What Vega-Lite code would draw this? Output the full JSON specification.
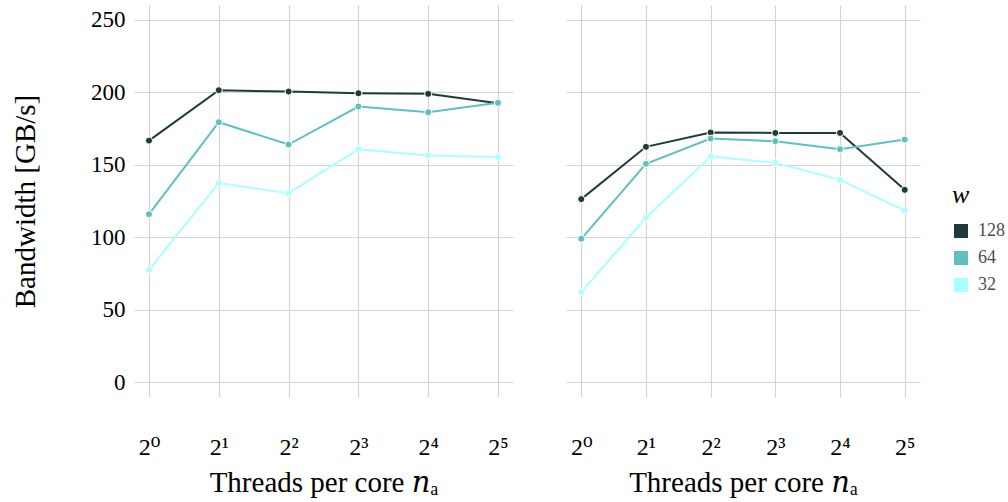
{
  "$schema": "https://vega.github.io/schema/vega-lite/v6.json",
  "autosize": {"type": "pad"},
  "padding": {"left": 11, "top": 5, "right": 5, "bottom": 5},
  "bounds": "flush",
  "spacing": 53,
  "background": "white",
  "config": {
    "font": "Liberation Serif",
    "view": {"stroke": null},
    "axis": {
      "gridColor": "#d4d4d4",
      "gridWidth": 1.2,
      "domain": false,
      "ticks": false,
      "labelColor": "black",
      "titleColor": "black",
      "labelFont": "Liberation Serif, DejaVu Serif, serif",
      "titleFont": "Liberation Serif, DejaVu Serif, serif",
      "titleFontWeight": "normal"
    },
    "legend": {
      "labelFont": "Liberation Serif",
      "titleFont": "Liberation Serif"
    }
  },
  "data": {
    "values": [
      {"panel": "a", "w": "128", "n": "2⁰", "bw": 166.7},
      {"panel": "a", "w": "128", "n": "2¹", "bw": 201.5},
      {"panel": "a", "w": "128", "n": "2²", "bw": 200.6},
      {"panel": "a", "w": "128", "n": "2³", "bw": 199.4},
      {"panel": "a", "w": "128", "n": "2⁴", "bw": 199.0},
      {"panel": "a", "w": "128", "n": "2⁵", "bw": 192.5},
      {"panel": "a", "w": "64", "n": "2⁰", "bw": 115.9},
      {"panel": "a", "w": "64", "n": "2¹", "bw": 179.4},
      {"panel": "a", "w": "64", "n": "2²", "bw": 164.0},
      {"panel": "a", "w": "64", "n": "2³", "bw": 190.2},
      {"panel": "a", "w": "64", "n": "2⁴", "bw": 186.3},
      {"panel": "a", "w": "64", "n": "2⁵", "bw": 192.8},
      {"panel": "a", "w": "32", "n": "2⁰", "bw": 77.5},
      {"panel": "a", "w": "32", "n": "2¹", "bw": 137.3},
      {"panel": "a", "w": "32", "n": "2²", "bw": 130.4},
      {"panel": "a", "w": "32", "n": "2³", "bw": 160.8},
      {"panel": "a", "w": "32", "n": "2⁴", "bw": 156.4},
      {"panel": "a", "w": "32", "n": "2⁵", "bw": 155.3},
      {"panel": "b", "w": "128", "n": "2⁰", "bw": 126.3},
      {"panel": "b", "w": "128", "n": "2¹", "bw": 162.4},
      {"panel": "b", "w": "128", "n": "2²", "bw": 172.3},
      {"panel": "b", "w": "128", "n": "2³", "bw": 172.0},
      {"panel": "b", "w": "128", "n": "2⁴", "bw": 172.0},
      {"panel": "b", "w": "128", "n": "2⁵", "bw": 132.7},
      {"panel": "b", "w": "64", "n": "2⁰", "bw": 98.9},
      {"panel": "b", "w": "64", "n": "2¹", "bw": 150.7},
      {"panel": "b", "w": "64", "n": "2²", "bw": 168.1},
      {"panel": "b", "w": "64", "n": "2³", "bw": 166.3},
      {"panel": "b", "w": "64", "n": "2⁴", "bw": 160.8},
      {"panel": "b", "w": "64", "n": "2⁵", "bw": 167.4},
      {"panel": "b", "w": "32", "n": "2⁰", "bw": 62.1},
      {"panel": "b", "w": "32", "n": "2¹", "bw": 113.4},
      {"panel": "b", "w": "32", "n": "2²", "bw": 155.7},
      {"panel": "b", "w": "32", "n": "2³", "bw": 151.4},
      {"panel": "b", "w": "32", "n": "2⁴", "bw": 139.6},
      {"panel": "b", "w": "32", "n": "2⁵", "bw": 118.4}
    ]
  },
  "resolve": {"scale": {"color": "shared"}},
  "hconcat": [
    {
      "width": 379,
      "height": 392,
      "transform": [{"filter": "datum.panel == 'a'"}],
      "encoding": {
        "x": {
          "field": "n", "type": "ordinal",
          "scale": {"type": "point", "padding": 0.215, "domain": ["2⁰", "2¹", "2²", "2³", "2⁴", "2⁵"]},
          "axis": {"title": "Threads per core 𝑛ₐ", "grid": true, "labelAngle": 0, "labelFontSize": 24, "labelPadding": 38, "titleFontSize": 29, "titlePadding": 9}
        },
        "y": {
          "field": "bw", "type": "quantitative",
          "scale": {"domain": [-10.35, 260.35], "nice": false, "zero": false},
          "axis": {"values": [0, 50, 100, 150, 200, 250], "title": "Bandwidth [GB/s]", "labelFontSize": 23, "labelPadding": 9, "titleFontSize": 29, "titlePadding": 50}
        },
        "color": {
          "field": "w", "type": "nominal",
          "scale": {"domain": ["128", "64", "32"], "range": ["#1d3b3b", "#60c0c0", "#aaffff"]},
          "legend": {
            "title": "w", "orient": "none", "legendX": 818, "legendY": 177,
            "titleFontStyle": "italic", "titleFontSize": 26, "titleFontWeight": "normal", "titleColor": "black",
            "labelFontSize": 18, "labelColor": "#4d4d4d", "labelOffset": 8,
            "symbolType": "square", "symbolSize": 196, "symbolStrokeWidth": 0, "symbolOpacity": 1,
            "rowPadding": 9, "titlePadding": 14
          }
        }
      },
      "layer": [
        {"mark": {"type": "line", "strokeWidth": 2}},
        {"mark": {"type": "point", "filled": true, "opacity": 1, "size": 50, "stroke": "white", "strokeWidth": 1}}
      ]
    },
    {
      "width": 354,
      "height": 392,
      "transform": [{"filter": "datum.panel == 'b'"}],
      "encoding": {
        "x": {
          "field": "n", "type": "ordinal",
          "scale": {"type": "point", "padding": 0.236, "domain": ["2⁰", "2¹", "2²", "2³", "2⁴", "2⁵"]},
          "axis": {"title": "Threads per core 𝑛ₐ", "grid": true, "labelAngle": 0, "labelFontSize": 24, "labelPadding": 38, "titleFontSize": 29, "titlePadding": 9}
        },
        "y": {
          "field": "bw", "type": "quantitative",
          "scale": {"domain": [-10.35, 260.35], "nice": false, "zero": false},
          "axis": {"values": [0, 50, 100, 150, 200, 250], "title": null, "labels": false}
        },
        "color": {
          "field": "w", "type": "nominal",
          "scale": {"domain": ["128", "64", "32"], "range": ["#1d3b3b", "#60c0c0", "#aaffff"]}
        }
      },
      "layer": [
        {"mark": {"type": "line", "strokeWidth": 2}},
        {"mark": {"type": "point", "filled": true, "opacity": 1, "size": 50, "stroke": "white", "strokeWidth": 1}}
      ]
    }
  ]
}
